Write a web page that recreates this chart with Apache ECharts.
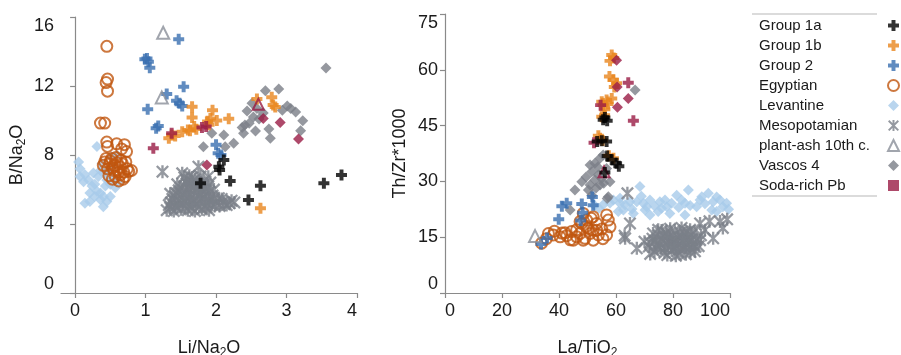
<!DOCTYPE html>
<html>
<head>
<meta charset="utf-8">
<script src="https://cdn.jsdelivr.net/npm/echarts@6/dist/echarts.min.js"></script>
<style>
  html, body { margin: 0; padding: 0; background: #fff; }
  #chart { width: 901px; height: 355px; }
</style>
</head>
<body>
<div id="chart"></div>
<script>
// ---- left panel: Li/Na2O vs B/Na2O ----
const g1aLeft = [[2.11,7.71],[2.04,7.32],[2.05,7.13],[1.78,6.36],[2.20,6.49],[2.63,6.22],[2.46,5.39],[3.53,6.36],[3.78,6.84]];
const g1bLeft = [[1.66,10.8],[1.95,10.6],[1.66,10.18],[1.92,10.12],[2.01,10.0],[2.18,10.1],[1.69,9.65],[1.63,9.4],[1.72,9.5],[1.90,9.75],[1.52,9.35],[1.37,9.16],[1.33,8.97],[1.42,9.1],[1.88,9.95],[1.60,9.45],[2.58,11.25],[2.79,11.35],[2.84,10.78],[2.81,10.9],[2.63,4.91]];
const g2Left = [[1.47,14.71],[0.99,13.55],[1.04,13.41],[1.06,13.06],[1.02,13.6],[1.54,11.96],[1.30,11.54],[1.44,11.15],[1.48,11.0],[1.52,10.84],[1.03,10.65],[1.15,9.55],[1.18,9.68],[2.00,8.6],[2.03,8.1],[2.07,8.0]];
const egyptLeft = [[0.45,14.3],[0.46,12.4],[0.44,12.2],[0.46,11.7],[0.36,9.85],[0.42,9.85],[0.45,8.75],[0.46,8.5],[0.59,8.65],[0.70,8.6],[0.66,8.35],[0.73,8.2],[0.44,7.8],[0.52,7.8],[0.58,7.85],[0.65,7.7],[0.72,7.6],[0.49,7.5],[0.56,7.4],[0.64,7.3],[0.74,7.2],[0.46,7.2],[0.55,7.1],[0.62,7.0],[0.69,7.0],[0.76,7.05],[0.80,7.1],[0.48,6.8],[0.57,6.75],[0.64,6.85],[0.71,6.75],[0.62,6.5],[0.53,6.6],[0.68,6.6],[0.42,7.6],[0.50,7.65],[0.60,7.55],[0.67,7.5],[0.53,7.25],[0.40,7.4]];
const levantLeft = [[0.05,7.6],[0.07,7.2],[0.14,6.85],[0.12,6.45],[0.19,6.55],[0.24,6.2],[0.14,5.2],[0.21,5.3],[0.31,8.5],[0.36,7.1],[0.31,5.9],[0.36,5.4],[0.40,5.0],[0.45,5.3],[0.50,5.6],[0.43,6.2],[0.50,6.3],[0.57,6.1],[0.62,6.45],[0.54,6.65],[0.45,6.55],[0.28,6.3],[0.33,6.75],[0.40,6.95],[0.26,6.95],[0.36,5.8],[0.21,5.8],[0.28,5.6],[0.40,5.6],[0.07,6.75],[0.45,7.05],[0.52,7.3],[0.38,7.5],[0.52,7.9],[0.59,8.0]];
const mesoLeft = [[1.24,7.03],[1.75,7.32],[1.52,6.94],[1.89,6.74],[1.55,6.7],[1.62,6.8],[1.70,6.6],[1.78,6.75],[1.66,6.45],[1.58,6.35],[1.74,6.3],[1.83,6.5],[1.92,6.4],[1.49,6.1],[1.61,6.05],[1.69,6.15],[1.80,6.0],[1.88,6.15],[1.97,6.0],[1.43,5.8],[1.52,5.75],[1.64,5.7],[1.73,5.85],[1.85,5.7],[1.95,5.65],[2.04,5.5],[1.38,5.45],[1.47,5.4],[1.57,5.5],[1.68,5.4],[1.79,5.45],[1.90,5.35],[2.00,5.25],[2.10,5.3],[2.19,5.2],[2.26,5.25],[2.15,5.1],[1.33,5.1],[1.42,5.05],[1.53,5.15],[1.62,5.05],[1.72,5.15],[1.84,5.05],[1.94,5.1],[1.30,4.8],[1.40,4.75],[1.50,4.85],[1.60,4.8],[1.70,4.75],[1.80,4.85],[1.90,4.8],[2.05,5.05],[1.45,6.3],[1.35,5.75],
  [1.58,6.55],[1.66,6.7],[1.73,6.45],[1.81,6.3],[1.55,6.2],[1.64,6.25],[1.76,6.1],[1.85,5.95],[1.47,5.95],[1.58,5.9],[1.69,5.95],[1.79,5.75],[1.90,5.85],[1.41,5.6],[1.52,5.55],[1.62,5.6],[1.74,5.6],[1.84,5.55],[1.96,5.45],[2.08,5.45],[1.36,5.25],[1.46,5.25],[1.57,5.3],[1.67,5.22],[1.77,5.3],[1.88,5.2],[1.98,5.05],[1.45,4.95],[1.56,4.98],[1.66,4.92],[1.76,4.98],[1.86,4.95],[1.35,4.95],[2.22,5.35],[2.12,5.15]];
const ashLeft = [[1.25,15.09],[1.23,11.34]];
const vascosLeft = [[3.56,13.05],[2.70,11.73],[2.89,11.83],[2.51,11.0],[2.44,10.55],[3.01,10.84],[2.94,10.6],[3.13,10.5],[3.23,9.99],[2.53,10.2],[2.41,9.74],[2.37,9.6],[2.56,9.39],[2.75,9.51],[2.77,8.97],[3.20,9.41],[2.39,9.26],[2.25,8.68],[2.11,9.16],[1.94,9.26],[2.13,8.48],[1.82,8.48],[2.67,10.43],[2.61,10.08],[2.47,9.84],[2.58,10.7],[3.06,10.7]];
const sodaLeftDiamond = [[2.67,10.12],[2.91,9.89],[3.17,8.93],[1.87,7.42]];
const sodaLeftPlus = [[1.80,9.6],[1.86,9.65],[1.11,8.39],[1.37,9.26]];
const sodaLeftTri = [[2.60,10.94]];

// ---- right panel: La/TiO2 vs Th/Zr*1000 ----
const g1aRight = [[56.1,47.2],[56.9,46.3],[55.5,46.6],[53.4,40.7],[56.7,40.7],[55.0,40.9],[56.9,36.8],[58.5,35.8],[60.2,34.9],[61.0,34.1],[56.1,32.4]];
const g1bRight = [[58.5,64.0],[57.9,62.4],[59.2,63.2],[57.7,58.2],[59.1,57.3],[60.2,56.4],[59.4,55.4],[55.0,51.4],[56.7,51.9],[58.5,52.3],[55.5,50.5],[56.1,49.4],[55.0,47.4],[54.4,41.6],[53.8,42.3],[55.3,41.0],[59.1,36.2],[57.5,36.9],[56.0,47.8],[57.2,50.8]];
const g2Right = [[42.7,24.1],[41.0,23.3],[48.0,23.9],[48.3,21.6],[52.0,23.6],[51.7,25.8],[39.9,19.8],[33.7,13.2],[35.8,14.8],[47.6,19.5]];
const egyptRight = [[33.9,13.4],[35.6,14.6],[36.3,16.0],[38.0,15.6],[38.4,16.6],[40.4,15.1],[41.0,16.1],[42.1,16.2],[42.7,15.4],[44.0,14.3],[44.4,16.5],[45.0,14.2],[46.2,15.1],[46.2,17.0],[47.4,16.0],[47.4,19.2],[48.0,18.7],[48.5,14.2],[48.5,21.4],[49.1,14.7],[49.7,19.6],[50.3,17.4],[50.9,16.0],[51.3,20.1],[52.0,20.5],[52.0,14.2],[52.0,16.9],[53.2,16.9],[53.2,18.7],[53.8,15.6],[55.0,17.2],[56.7,21.0],[57.3,19.6],[57.9,17.8],[56.7,15.6],[55.4,14.6],[49.5,17.9]];
const levantRight = [[52.5,23.5],[54.0,22.8],[55.5,23.7],[57.9,24.2],[59.1,25.0],[60.8,21.9],[61.4,24.1],[61.4,25.5],[62.6,22.3],[63.2,23.7],[64.9,24.5],[65.6,22.6],[66.1,21.4],[67.3,24.5],[68.4,28.6],[68.9,26.0],[69.6,24.1],[70.2,22.3],[70.8,23.2],[71.9,25.0],[71.9,21.0],[73.5,23.4],[74.8,21.9],[75.4,24.5],[76.0,22.8],[77.2,25.0],[77.8,23.2],[78.9,21.4],[79.5,24.1],[81.3,26.3],[82.0,23.0],[83.0,25.0],[84.2,21.0],[84.2,24.1],[85.4,27.7],[86.0,23.5],[88.3,23.2],[89.5,25.0],[90.1,25.9],[91.2,24.0],[92.4,26.8],[93.6,22.3],[94.1,24.5],[95.3,21.9],[95.3,25.8],[96.5,25.0],[97.5,23.2],[98.8,24.1],[99.5,22.5]];
const mesoRight = [[64.0,26.8],[64.9,18.7],[63.2,14.7],[63.0,15.4],[67.3,12.0],[72.0,10.5],[70.0,13.8],[71.5,12.5],[72.8,14.6],[73.5,11.2],[74.2,13.0],[75.0,15.5],[75.8,12.0],[76.5,14.0],[77.0,10.8],[77.6,16.2],[78.2,12.8],[78.8,14.8],[79.5,11.5],[80.0,13.6],[80.6,16.8],[81.2,12.2],[81.8,15.0],[82.3,10.5],[82.9,13.9],[83.5,11.8],[84.0,16.0],[84.6,13.2],[85.2,14.8],[85.8,12.0],[86.4,15.6],[87.0,13.0],[87.7,11.2],[88.3,14.3],[89.0,12.6],[76.0,16.8],[79.0,17.3],[83.0,17.5],[86.0,17.0],[73.0,16.0],[78.0,10.2],[81.0,10.0],[84.5,10.4],[72.0,13.5],[89.8,15.5],[74.8,17.0],[89.5,18.7],[92.8,19.3],[96.5,19.2],[99.0,19.8],[91.2,16.9],[94.1,14.7],[89.5,14.2],[87.5,16.5],[97.5,17.5],
  [73.8,14.0],[75.4,13.2],[77.2,12.0],[78.5,13.8],[79.8,15.4],[80.9,14.4],[82.0,13.0],[83.2,15.2],[84.3,12.2],[85.5,13.6],[86.7,14.3],[87.9,12.4],[76.8,15.2],[79.2,12.6],[81.6,11.2],[83.8,13.9],[86.1,11.0],[74.6,11.8],[80.4,12.0],[82.6,16.2],[85.0,16.4],[77.9,15.8]];
const ashRight = [[31.6,15.3]];
const vascosRight = [[66.7,54.6],[55.5,37.1],[54.4,36.2],[52.6,34.9],[50.9,34.4],[53.6,33.9],[56.7,33.5],[51.5,32.6],[53.8,31.7],[55.0,30.8],[52.6,30.4],[50.9,29.0],[54.4,29.0],[55.7,29.5],[48.0,29.9],[45.6,27.7],[50.3,27.7],[51.5,26.3],[57.3,25.9],[43.9,22.3],[57.9,29.9],[56.9,25.4],[53.0,28.2],[49.5,31.2]];
const sodaRightDiamond = [[60.2,62.6],[64.3,52.3],[60.5,49.9],[60.4,55.4]];
const sodaRightPlus = [[64.3,56.5],[66.1,46.3],[52.3,40.4],[54.6,50.5]];
const sodaRightTri = [[55.8,32.6]];

const legendNames = ['Group 1a', 'Group 1b', 'Group 2', 'Egyptian', 'Levantine', 'Mesopotamian', 'plant-ash 10th c.', 'Vascos 4', 'Soda-rich Pb'];

const FONT = '"Liberation Sans", Arial, sans-serif';
const PLUS = 'path://M3.2,0H6.8V3.2H10V6.8H6.8V10H3.2V6.8H0V3.2H3.2Z';
const STAR = 'path://M8.2,0H11.8V20H8.2Z M0,2.5L2.5,0L20,17.5L17.5,20Z M17.5,0L20,2.5L2.5,20L0,17.5Z';
const CRIMSON = '#9a1b45';
const AXIS = '#8a8a8a';

const chart = echarts.init(document.getElementById('chart'));

function sc(name, gi, data, symbol, size, style) {
  return {
    type: 'scatter', name, xAxisIndex: gi, yAxisIndex: gi,
    data, symbol, symbolSize: size, itemStyle: style,
    emphasis: { disabled: true }, silent: true
  };
}

function sodaData(diamonds, pluses, tris) {
  return diamonds
    .concat(pluses.map(v => ({ value: v, symbol: PLUS, symbolSize: 11 })))
    .concat(tris.map(v => ({
      value: v, symbol: 'triangle', symbolSize: 11,
      itemStyle: { color: 'rgba(0,0,0,0)', borderColor: CRIMSON, borderWidth: 2 }
    })));
}

const hollow = c => ({ color: 'rgba(0,0,0,0)', borderColor: c, borderWidth: 2 });

function makeSeries(gi, d) {
  return [
    sc('Levantine', gi, d.levant, 'diamond', 11, { color: '#a8cbea' }),
    sc('Mesopotamian', gi, d.meso, STAR, 13, { color: '#7a7f88' }),
    sc('Vascos 4', gi, d.vascos, 'diamond', 11, { color: '#7a7e87' }),
    sc('Egyptian', gi, d.egypt, 'circle', 11, hollow('#c0560f')),
    sc('Group 2', gi, d.g2, PLUS, 11, { color: '#3a6fb0' }),
    sc('Group 1b', gi, d.g1b, PLUS, 11, { color: '#e8861e' }),
    sc('Soda-rich Pb', gi, d.soda, 'diamond', 11, { color: CRIMSON }),
    sc('Group 1a', gi, d.g1a, PLUS, 11, { color: '#000' }),
    sc('plant-ash 10th c.', gi, d.ash, 'triangle', 12, hollow('#8a8f98'))
  ];
}

const labelStyle = { color: '#1a1a1a', fontSize: 18, fontFamily: FONT };
const nameStyle = {
  color: '#1a1a1a', fontSize: 18, fontFamily: FONT,
  rich: { s: { fontSize: 12, fontFamily: FONT, color: '#1a1a1a', verticalAlign: 'bottom', lineHeight: 22 } }
};
const axisLine = { show: true, lineStyle: { color: AXIS, width: 1.2 } };
const axisTick = { show: true, length: 5, lineStyle: { color: AXIS, width: 1.2 } };

chart.setOption({
  animation: false,
  backgroundColor: '#fff',
  grid: [
    { left: 61, top: 17, width: 296, height: 276, outerBoundsMode: 'none' },
    { left: 445, top: 14, width: 285, height: 279, outerBoundsMode: 'none' }
  ],
  xAxis: [
    {
      gridIndex: 0, type: 'value', min: -0.2, max: 4, minInterval: 1, maxInterval: 1,
      name: 'Li/Na{s|2}O', nameLocation: 'middle', nameGap: 44, nameTextStyle: nameStyle,
      axisLine, axisTick, splitLine: { show: false },
      axisLabel: { ...labelStyle, margin: 9, showMinLabel: false, alignMaxLabel: 'right' }
    },
    {
      gridIndex: 1, type: 'value', min: 0, max: 100, interval: 20,
      name: 'La/TiO{s|2}', nameLocation: 'middle', nameGap: 44, nameTextStyle: nameStyle,
      axisLine, axisTick, splitLine: { show: false },
      axisLabel: { ...labelStyle, margin: 9, alignMinLabel: 'left', alignMaxLabel: 'right' }
    }
  ],
  yAxis: [
    {
      gridIndex: 0, type: 'value', min: 0, max: 16, interval: 4,
      name: 'B/Na{s|2}O', nameLocation: 'middle', nameGap: 33, nameRotate: 90, nameTextStyle: nameStyle,
      axisLine, axisTick, splitLine: { show: false },
      axisLabel: { ...labelStyle, margin: 7, verticalAlignMinLabel: 'bottom', verticalAlignMaxLabel: 'top' }
    },
    {
      gridIndex: 1, type: 'value', min: 0, max: 75, interval: 15,
      name: 'Th/Zr*1000', nameLocation: 'middle', nameGap: 36, nameRotate: 90, nameTextStyle: nameStyle,
      axisLine, axisTick, splitLine: { show: false },
      axisLabel: { ...labelStyle, margin: 7, verticalAlignMinLabel: 'bottom', verticalAlignMaxLabel: 'top' }
    }
  ],
  legend: {
    orient: 'vertical', left: 754, top: 13, align: 'right',
    itemWidth: 11, itemHeight: 11, itemGap: 5, selectedMode: false,
    formatter: '{t|{name}}',
    textStyle: {
      fontSize: 15, color: '#1a1a1a', fontFamily: FONT, lineHeight: 15,
      rich: { t: { width: 124, align: 'left', fontSize: 15, fontFamily: FONT, color: '#1a1a1a', lineHeight: 15 } }
    },
    data: legendNames.map(n => n === 'Soda-rich Pb' ? { name: n, icon: 'rect' } : n)
  },
  graphic: [
    { type: 'line', shape: { x1: 752, y1: 14, x2: 877, y2: 14 }, style: { stroke: '#cfcfcf', lineWidth: 1.5 } },
    { type: 'line', shape: { x1: 752, y1: 196, x2: 877, y2: 196 }, style: { stroke: '#cfcfcf', lineWidth: 1.5 } }
  ],
  series: makeSeries(0, {
    levant: levantLeft, meso: mesoLeft, vascos: vascosLeft, egypt: egyptLeft, g2: g2Left,
    g1b: g1bLeft, soda: sodaData(sodaLeftDiamond, sodaLeftPlus, sodaLeftTri), g1a: g1aLeft, ash: ashLeft
  }).concat(makeSeries(1, {
    levant: levantRight, meso: mesoRight, vascos: vascosRight, egypt: egyptRight, g2: g2Right,
    g1b: g1bRight, soda: sodaData(sodaRightDiamond, sodaRightPlus, sodaRightTri), g1a: g1aRight, ash: ashRight
  }))
});
</script>
</body>
</html>
